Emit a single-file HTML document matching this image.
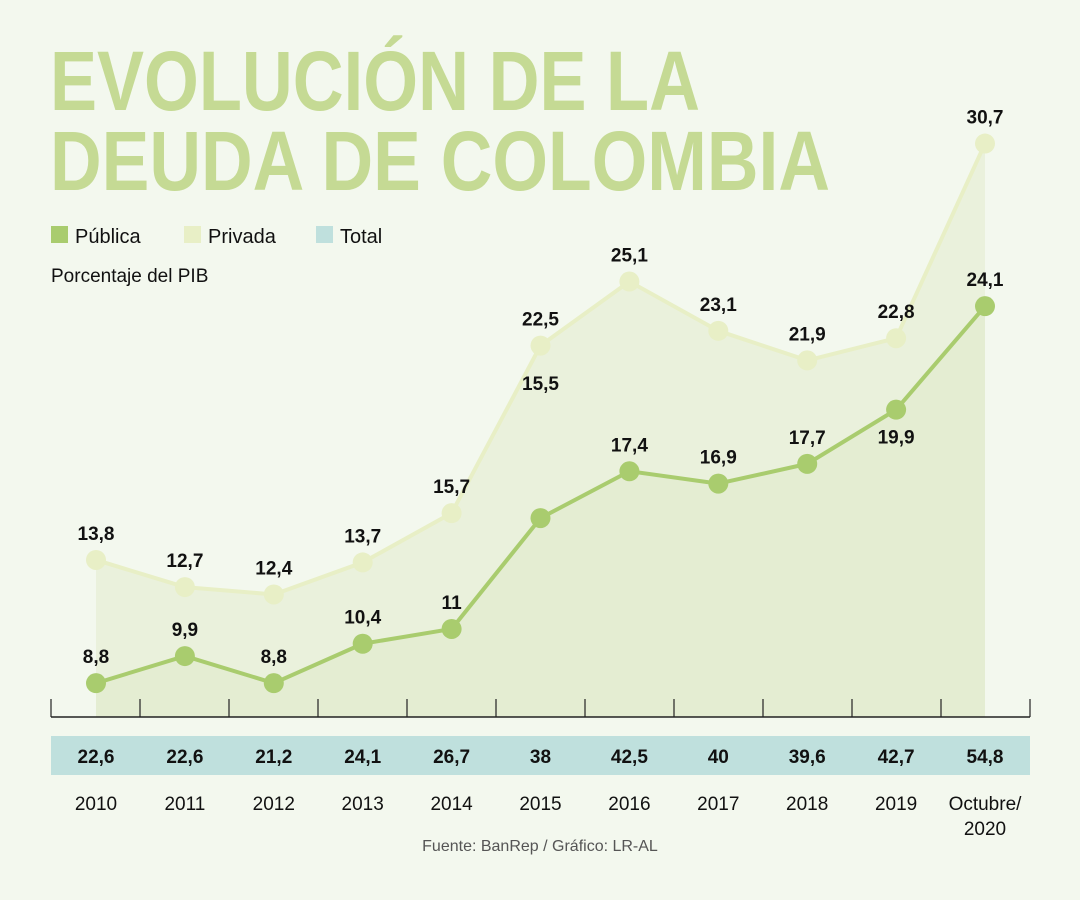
<!DOCTYPE html>
<html><head><meta charset="utf-8"><style>
html,body{margin:0;padding:0;background:#f3f8ee;}
svg{display:block;font-family:"Liberation Sans",sans-serif;}
</style></head><body>
<svg id="chart" width="1080" height="900" viewBox="0 0 1080 900">
<rect width="1080" height="900" fill="#f3f8ee"/>
<text x="50" y="110" font-size="84" font-weight="bold" fill="#c5da94" textLength="650" lengthAdjust="spacingAndGlyphs">EVOLUCIÓN DE LA</text>
<text x="50" y="190" font-size="84" font-weight="bold" fill="#c5da94" textLength="780" lengthAdjust="spacingAndGlyphs">DEUDA DE COLOMBIA</text>
<g>
<rect x="51" y="226" width="17" height="17" fill="#a9cc6e"/>
<text x="75" y="243" font-size="20" fill="#111">Pública</text>
<rect x="184" y="226" width="17" height="17" fill="#e8efc6"/>
<text x="208" y="243" font-size="20" fill="#111">Privada</text>
<rect x="316" y="226" width="17" height="17" fill="#bfe0dd"/>
<text x="340" y="243" font-size="20" fill="#111">Total</text>
</g>
<text x="51" y="282" font-size="19" fill="#111">Porcentaje del PIB</text>
<g id="plot"></g>
<text x="540" y="851" font-size="16" fill="#555" text-anchor="middle">Fuente: BanRep / Gráfico: LR-AL</text>
</svg>
<script>
const categories = ["2010","2011","2012","2013","2014","2015","2016","2017","2018","2019","Octubre/2020"];
const publica = [8.8,9.9,8.8,10.4,11,15.5,17.4,16.9,17.7,19.9,24.1];
const privada = [13.8,12.7,12.4,13.7,15.7,22.5,25.1,23.1,21.9,22.8,30.7];
const total = [22.6,22.6,21.2,24.1,26.7,38,42.5,40,39.6,42.7,54.8];
const publicaLabels = ["8,8","9,9","8,8","10,4","11","15,5","17,4","16,9","17,7","19,9","24,1"];
const privadaLabels = ["13,8","12,7","12,4","13,7","15,7","22,5","25,1","23,1","21,9","22,8","30,7"];
const totalLabels = ["22,6","22,6","21,2","24,1","26,7","38","42,5","40","39,6","42,7","54,8"];

const NS="http://www.w3.org/2000/svg";
const g=document.getElementById('plot');
const xs=i=>96+i*88.9;
const ys=v=>900-v*24.64;
const baseY=717;
function mk(t,a){const e=document.createElementNS(NS,t);for(const k in a)e.setAttribute(k,a[k]);g.appendChild(e);return e;}

// areas
let d="M"+xs(0)+","+baseY;privada.forEach((v,i)=>d+=" L"+xs(i)+","+ys(v));d+=" L"+xs(privada.length-1)+","+baseY+"Z";
let a1=mk('path',{d:d,fill:"#eaf1dc"});


d="M"+xs(0)+","+baseY;publica.forEach((v,i)=>d+=" L"+xs(i)+","+ys(v));d+=" L"+xs(publica.length-1)+","+baseY+"Z";
let a2=mk('path',{d:d,fill:"#e4edd2"});



// axis
let ax=mk('line',{x1:51,x2:1030,y1:baseY,y2:baseY,stroke:"#222","stroke-width":1.5});


for(let i=0;i<=categories.length;i++){
  const x=51+i*89;
  let t=mk('line',{x1:x,x2:x,y1:baseY-18,y2:baseY,stroke:"#222","stroke-width":1.2});
  
  
}

function series(vals,labels,color,name,dots){
  let p=mk('polyline',{points:vals.map((v,i)=>xs(i)+","+ys(v)).join(" "),fill:"none",stroke:color,"stroke-width":4,"stroke-linejoin":"round"});
  
  
  vals.forEach((v,i)=>{
    let c=mk('circle',{cx:xs(i),cy:ys(v),r:10,fill:dots});
    
    
    let dy=-20;
    if(name==='publica'&&i===5)dy=-128;
    if(name==='publica'&&i===9)dy=34;
    let t=mk('text',{x:xs(i),y:ys(v)+dy,"font-size":19,"font-weight":"bold","text-anchor":"middle",fill:"#111"});
    t.textContent=labels[i];
    
    
  });
}
series(privada,privadaLabels,"#e8efc6",'privada',"#e8efc6");
series(publica,publicaLabels,"#a9cc6e",'publica',"#a9cc6e");

let band=mk('rect',{x:51,y:736,width:979,height:39,fill:"#bfe0dd"});


total.forEach((v,i)=>{
  let t=mk('text',{x:xs(i),y:763,"font-size":19,"font-weight":"bold","text-anchor":"middle",fill:"#111"});
  t.textContent=totalLabels[i];
  
  
});
categories.forEach((c,i)=>{
  const parts=c.split('/');
  parts.forEach((p,j)=>{
    let t=mk('text',{x:xs(i),y:810+j*25,"font-size":19,"text-anchor":"middle",fill:"#111"});
    t.textContent=p+(j<parts.length-1?'/':'');
    
    
  });
});
</script>
</body></html>
